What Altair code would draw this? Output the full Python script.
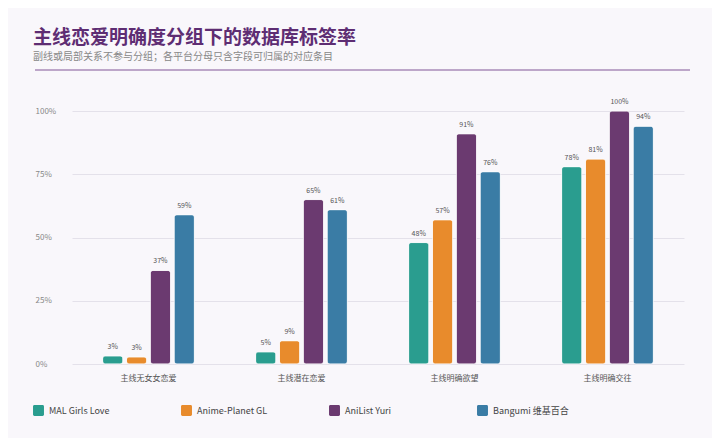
import altair as alt
import pandas as pd

# 分组与平台
groups = ['主线无女女恋爱', '主线潜在恋爱', '主线明确欲望', '主线明确交往']
platforms = ['MAL Girls Love', 'Anime-Planet GL', 'AniList Yuri', 'Bangumi 维基百合']
colors = ['#2a9d8f', '#e88b2c', '#6b3a70', '#3a7ca5']

# 各平台标签率（按分组顺序）
mal = [0.032, 0.048, 0.48, 0.78]
anime_planet = [0.028, 0.092, 0.57, 0.81]
anilist = [0.37, 0.65, 0.91, 1.00]
bangumi = [0.59, 0.61, 0.76, 0.94]

rows = []
for name, vals in zip(platforms, [mal, anime_planet, anilist, bangumi]):
    for g, v in zip(groups, vals):
        rows.append({'group': g, 'platform': name, 'rate': v})
df = pd.DataFrame(rows)

rounded_sq = ('M-0.75,-1 H0.75 A0.25,0.25 0 0 1 1,-0.75 V0.75 A0.25,0.25 0 0 1 0.75,1 '
              'H-0.75 A0.25,0.25 0 0 1 -1,0.75 V-0.75 A0.25,0.25 0 0 1 -0.75,-1 Z')

x = alt.X('group:N', sort=groups, title=None,
          scale=alt.Scale(paddingInner=0.4, paddingOuter=0.2),
          axis=alt.Axis(labelAngle=0, ticks=False, domain=False, labelPadding=10,
                        labelFontSize=8, labelColor='#555'))
xoff = alt.XOffset('platform:N', sort=platforms,
                   scale=alt.Scale(paddingInner=0.15, paddingOuter=0))
y = alt.Y('rate:Q', title=None,
          scale=alt.Scale(domain=[0, 1], nice=False),
          axis=alt.Axis(values=[0, 0.25, 0.5, 0.75, 1], format='.0%', ticks=False,
                        domain=False, labelAlign='left', labelPadding=37,
                        labelFontSize=8, labelColor='#888', gridColor='#e4e1ea'))
color = alt.Color('platform:N', sort=platforms, title=None,
                  scale=alt.Scale(domain=platforms, range=colors),
                  legend=alt.Legend(orient='none', legendX=-39, legendY=294,
                                    direction='horizontal', columns=4, gridAlign='all',
                                    columnPadding=56, symbolType=rounded_sq,
                                    symbolSize=120, symbolStrokeWidth=0,
                                    labelFontSize=9, labelColor='#444', labelOffset=5))

base = alt.Chart(df)

bars = base.mark_bar(cornerRadius=3, stroke='white', strokeWidth=0.6).encode(
    x=x, xOffset=xoff, y=y, color=color
)

labels = base.mark_text(fontSize=7, color='#555', dy=-6, baseline='bottom').encode(
    x=x, xOffset=xoff, y=y, text=alt.Text('rate:Q', format='.0%')
)

line = alt.Chart(pd.DataFrame({'a': [0]})).mark_rule(
    color='#a98bb8', strokeWidth=1.5, clip=False
).encode(x=alt.value(-37), x2=alt.value(618), y=alt.value(-41))

chart = alt.layer(bars, labels, line).properties(
    width=612,
    height=253,
    padding={'left': 25, 'top': 21, 'right': 21, 'bottom': 22},
    title=alt.Title(
        '主线恋爱明确度分组下的数据库标签率',
        subtitle='副线或局部关系不参与分组；各平台分母只含字段可归属的对应条目',
        anchor='start', frame='bounds', fontSize=19, fontWeight='bold',
        color='#5e2d73', subtitleFontSize=10, subtitleColor='#888',
        subtitlePadding=4, offset=7
    )
).configure(
    font='Noto Sans CJK SC',
    background='#f9f7fb'
).configure_view(stroke=None)

chart.save('out.html', embed_options={'renderer': 'svg', 'actions': False})
